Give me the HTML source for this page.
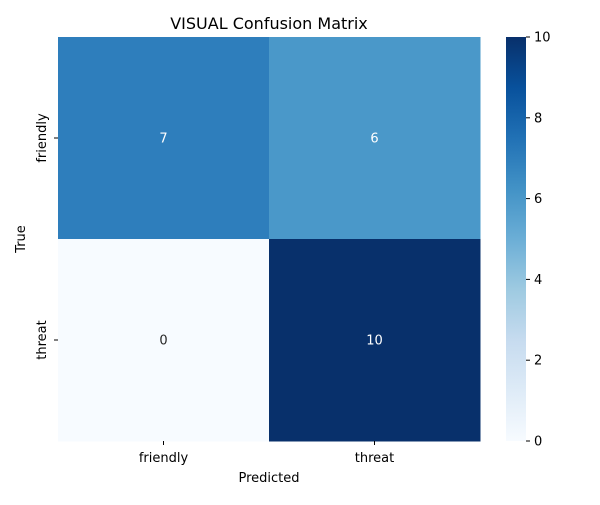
<!DOCTYPE html>
<html><head><meta charset="utf-8"><style>
body{margin:0;background:#fff;}
svg{font-family:"DejaVu Sans","Liberation Sans",sans-serif;}
</style></head><body>
<svg id="chart" width="600" height="500">
<defs><linearGradient id="blues" x1="0" y1="1" x2="0" y2="0">
<stop offset="0" stop-color="#f7fbff"/><stop offset="0.125" stop-color="#deebf7"/>
<stop offset="0.25" stop-color="#c6dbef"/><stop offset="0.375" stop-color="#9ecae1"/>
<stop offset="0.5" stop-color="#6baed6"/><stop offset="0.625" stop-color="#4292c6"/>
<stop offset="0.75" stop-color="#2171b5"/><stop offset="0.875" stop-color="#08519c"/>
<stop offset="1" stop-color="#08306b"/></linearGradient></defs>
<text x="269" y="29" text-anchor="middle" font-size="16">VISUAL Confusion Matrix</text>
<g id="cells"></g>
<rect x="506" y="37" width="20" height="404" fill="url(#blues)"/>
<g id="cbticks"></g>
<g id="axes"></g>
<text x="269" y="482" text-anchor="middle" font-size="13">Predicted</text>
<text x="25" y="239" text-anchor="middle" font-size="13" transform="rotate(-90 25 239)">True</text>
</svg>
<script>
const labels = ["friendly","threat"];
const matrix = [[7,6],[0,10]];
const cbTicks = [0,2,4,6,8,10];
const vmin = 0, vmax = 10;
const X0=58, X1=480, Y0=37, Y1=441, CBX=526;
const ns="http://www.w3.org/2000/svg";
const stops=[[247,251,255],[222,235,247],[198,219,239],[158,202,225],[107,174,214],[66,146,198],[33,113,181],[8,81,156],[8,48,107]];
function color(v){let t=(v-vmin)/(vmax-vmin)*8;let i=Math.min(7,Math.floor(t));let f=t-i;
const c=stops[i].map((a,k)=>Math.round(a+(stops[i+1][k]-a)*f));return `rgb(${c})`;}
function mk(tag,attrs,parent){const e=document.createElementNS(ns,tag);for(const k in attrs)e.setAttribute(k,attrs[k]);parent.appendChild(e);return e;}
const n=labels.length, cw=(X1-X0)/n, ch=(Y1-Y0)/n;
const cells=document.getElementById('cells'), axes=document.getElementById('axes');
matrix.forEach((row,r)=>row.forEach((v,c)=>{
 const rc=mk('rect',{x:X0+c*cw,y:Y0+r*ch,width:cw+0.5,height:ch+0.5,fill:color(v)},cells);
 
 
 const t=mk('text',{x:X0+(c+0.5)*cw,y:Y0+(r+0.5)*ch+4.5,'text-anchor':'middle','font-size':13,fill:(v/vmax>0.5||v>=6)?'#fff':'#262626'},cells);
 t.textContent=v;
 
 
}));
labels.forEach((l,i)=>{
 const cx=X0+(i+0.5)*cw;
 mk('line',{x1:cx,x2:cx,y1:Y1,y2:Y1+4,stroke:'#000'},axes);
 const t=mk('text',{x:cx,y:Y1+21,'text-anchor':'middle','font-size':13},axes);t.textContent=l;
 
 
 const cy=Y0+(i+0.5)*ch;
 mk('line',{x1:X0-4,x2:X0,y1:cy,y2:cy,stroke:'#000'},axes);
 const u=mk('text',{x:46,y:cy,'text-anchor':'middle','font-size':13,transform:`rotate(-90 46 ${cy})`},axes);u.textContent=l;
 
 
});
const cb=document.getElementById('cbticks');
cbTicks.forEach(v=>{
 const y=Y1-(v-vmin)/(vmax-vmin)*(Y1-Y0);
 mk('line',{x1:CBX,x2:CBX+4,y1:y,y2:y,stroke:'#000'},cb);
 const t=mk('text',{x:CBX+8,y:y+4.5,'font-size':13},cb);t.textContent=v;
 
 
});
</script>
</body></html>
